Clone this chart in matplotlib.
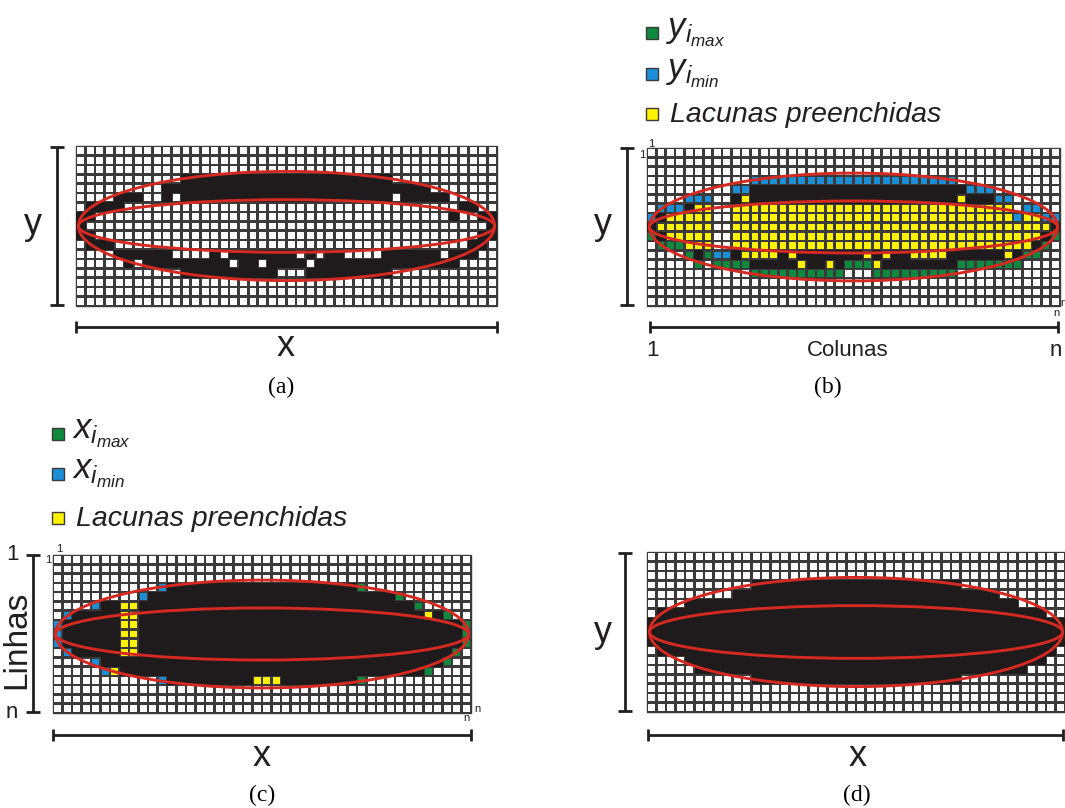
import matplotlib
matplotlib.use('Agg')
import matplotlib.pyplot as plt
from matplotlib.patches import Rectangle, Ellipse

plt.rcParams['font.family'] = ['Liberation Sans', 'DejaVu Sans']
plt.rcParams['mathtext.fontset'] = 'custom'
plt.rcParams['mathtext.it'] = 'Liberation Sans:italic'
plt.rcParams['mathtext.rm'] = 'Liberation Sans'

N_COLS, N_ROWS = 44, 17

# cell maps, run-length coded per row: "11. 22#" = 11 white cells, then 22 object cells
# .  white   # object   Y filled gap   B min   G max
grid_a = ["44.", "44.", "44.",
          "11. 22# 11.",
          "9. 28# 7.",
          "4. 3# 2. 1# 1. 22# 1. 5# 5.",
          "1. 4# 35. 2# 2.",
          "2# 37. 1# 2. 2#",
          "1# 42. 1#",
          "2# 40. 2#",
          "1. 3# 37. 2# 1.",
          "4. 6# 4. 1# 1. 7# 1. 1# 1. 2# 4. 6# 1. 3# 2.",
          "5. 1# 1. 9# 1. 2# 1. 4# 1. 15# 4.",
          "11. 10# 3. 9# 11.",
          "44.", "44.", "44."]

grid_b = ["44.", "44.", "44.",
          "11. 22B 11.",
          "9. 2B 23# 3B 7.",
          "4. 3B 2. 1# 1Y 22# 1Y 3# 2B 5.",
          "1. 3B 1# 2Y 2. 30Y 1. 2B 2.",
          "1B 1# 5Y 2. 30Y 1B 2Y 2B",
          "1# 6Y 2. 34Y 1#",
          "1G 1# 5Y 2. 33Y 1# 1G",
          "1. 3G 3Y 2. 32Y 1# 1G 1.",
          "4. 1G 1# 1G 2B 1# 4Y 1# 1Y 7# 1Y 1# 1Y 2# 4Y 6# 1Y 1# 2G 2.",
          "5. 1G 1. 4G 5# 1Y 2# 1Y 1# 3G 1Y 8# 7G 4.",
          "11. 10G 3. 9G 11.",
          "44.", "44.", "44."]

grid_c = ["44.", "44.", "44.",
          "11. 1B 20# 1G 11.",
          "9. 1B 26# 1G 7.",
          "4. 1B 2# 2Y 29# 1G 5.",
          "1. 1B 5# 2Y 30# 1Y 1# 1G 2.",
          "1B 6# 2Y 34# 1G",
          "1B 6# 2Y 34# 1G",
          "1B 6# 2Y 34# 1G",
          "1. 1B 5# 2Y 33# 1G 1.",
          "4. 1B 36# 1G 2.",
          "5. 1B 1Y 32# 1G 4.",
          "11. 1B 9# 3Y 8# 1G 11.",
          "44.", "44.", "44."]

grid_d = ["44.", "44.", "44.",
          "11. 22# 11.",
          "9. 28# 7.",
          "4. 35# 5.",
          "1. 41# 2.",
          "44#", "44#", "44#",
          "1. 42# 1.",
          "4. 38# 2.",
          "5. 35# 4.",
          "11. 22# 11.",
          "44.", "44.", "44."]

legend_b = ['$y_{i_{max}}$', '$y_{i_{min}}$', 'Lacunas preenchidas']
legend_c = ['$x_{i_{max}}$', '$x_{i_{min}}$', 'Lacunas preenchidas']
legend_keys = ['G', 'B', 'Y']
panel_names = ['(a)', '(b)', '(c)', '(d)']

COLORS = {'.': 'white', '#': '#1f1a1b', 'Y': '#fff200', 'B': '#1b8fd6', 'G': '#0d8a3e'}
LINE = '#3b393a'
RED = '#d42a22'
INK = '#231f20'
GAP = 0.14


def expand(rows):
    out = []
    for spec in rows:
        s = ''.join(int(t[:-1]) * t[-1] for t in spec.split())
        out.append(s.ljust(N_COLS, '.')[:N_COLS])
    return out


W, H = 1065, 808
fig = plt.figure(figsize=(W / 100, H / 100), dpi=100)
base = fig.add_axes([0, 0, 1, 1])
base.set_xlim(0, W)
base.set_ylim(H, 0)
base.axis('off')


def grid_axes(x0, y0, x1, y1):
    ax = fig.add_axes([x0 / W, 1 - y1 / H, (x1 - x0) / W, (y1 - y0) / H])
    ax.set_xlim(0, N_COLS)
    ax.set_ylim(N_ROWS, 0)
    ax.axis('off')
    return ax


def draw_grid(ax, rows):
    ax.add_patch(Rectangle((0, 0), N_COLS, N_ROWS, fc=LINE, ec=LINE, lw=1.0, clip_on=False))
    for r, row in enumerate(expand(rows)):
        for c, ch in enumerate(row):
            if ch == '#':
                ax.add_patch(Rectangle((c, r), 1, 1, fc=COLORS[ch], ec='none', clip_on=False))
            else:
                ax.add_patch(Rectangle((c + GAP, r + GAP), 1 - 2 * GAP, 1 - 2 * GAP,
                                       fc=COLORS[ch], ec='none', clip_on=False))
    for h in (11.6, 5.6):
        ax.add_patch(Ellipse((22, 8.5), 43.5, h, fill=False, ec=RED, lw=2.1, clip_on=False))


def vbracket(x, y0, y1):
    base.plot([x, x], [y0, y1], color=INK, lw=2.0, solid_capstyle='butt')
    for y in (y0, y1):
        base.plot([x - 7, x + 7], [y, y], color=INK, lw=2.0, solid_capstyle='butt')


def hbracket(y, x0, x1):
    base.plot([x0, x1], [y, y], color=INK, lw=2.0, solid_capstyle='butt')
    for x in (x0, x1):
        base.plot([x, x], [y - 6, y + 6], color=INK, lw=2.0, solid_capstyle='butt')


def legend(x, ys, labels):
    for y, key, lab in zip(ys, legend_keys, labels):
        base.add_patch(Rectangle((x, y - 6), 12, 12, fc=COLORS[key], ec=LINE, lw=1.0))
        if lab.startswith('$'):
            base.text(x + 20, y + 4, lab, fontsize=25, ha='left', va='baseline', color=INK)
        else:
            base.text(x + 24, y + 1, lab, fontsize=20.5, style='italic', ha='left',
                      va='center', color=INK)


panels = [(grid_a, (76, 146, 497, 306)),
          (grid_b, (647, 148, 1060, 306)),
          (grid_c, (53, 555, 471, 713)),
          (grid_d, (647, 552, 1065, 712))]
for rows, box in panels:
    draw_grid(grid_axes(*box), rows)

big = 26
# (a)
vbracket(57, 147, 305)
hbracket(327, 76, 497)
base.text(33, 224, 'y', fontsize=big, ha='center', va='center', color=INK)
base.text(286, 347, 'x', fontsize=big, ha='center', va='center', color=INK)
# (b)
vbracket(627, 148, 305)
hbracket(327, 650, 1058)
base.text(603, 224, 'y', fontsize=big, ha='center', va='center', color=INK)
base.text(652, 350, '1', fontsize=16, ha='center', va='center', color=INK)
base.text(848, 350, 'Colunas', fontsize=16, ha='center', va='center', color=INK)
base.text(1056, 350, 'n', fontsize=16, ha='center', va='center', color=INK)
base.text(642, 155, '1', fontsize=8, ha='center', va='center', color=INK)
base.text(651, 144, '1', fontsize=8, ha='center', va='center', color=INK)
base.text(1056, 313, 'n', fontsize=8, ha='center', va='center', color=INK)
base.text(1063, 303, 'n', fontsize=8, ha='center', va='center', color=INK)
legend(646, [33, 74, 114], legend_b)
# (c)
vbracket(33, 555, 712)
hbracket(735, 53, 471)
base.text(17, 640, 'Linhas', fontsize=24, rotation=90, ha='center', va='center', color=INK)
base.text(12, 554, '1', fontsize=16, ha='center', va='center', color=INK)
base.text(12, 712, 'n', fontsize=16, ha='center', va='center', color=INK)
base.text(48, 560, '1', fontsize=8, ha='center', va='center', color=INK)
base.text(59, 549, '1', fontsize=8, ha='center', va='center', color=INK)
base.text(477, 709, 'n', fontsize=8, ha='center', va='center', color=INK)
base.text(466, 718, 'n', fontsize=8, ha='center', va='center', color=INK)
base.text(262, 757, 'x', fontsize=big, ha='center', va='center', color=INK)
legend(52, [434, 474, 518], legend_c)
# (d)
vbracket(625, 553, 711)
hbracket(735, 648, 1063)
base.text(603, 632, 'y', fontsize=big, ha='center', va='center', color=INK)
base.text(858, 757, 'x', fontsize=big, ha='center', va='center', color=INK)

for name, (x, y) in zip(panel_names, [(281, 387), (828, 387), (262, 795), (857, 795)]):
    base.text(x, y, name, fontsize=17, family='Liberation Serif', ha='center', va='center',
              color='black')

fig.savefig('out.png', dpi=100)
